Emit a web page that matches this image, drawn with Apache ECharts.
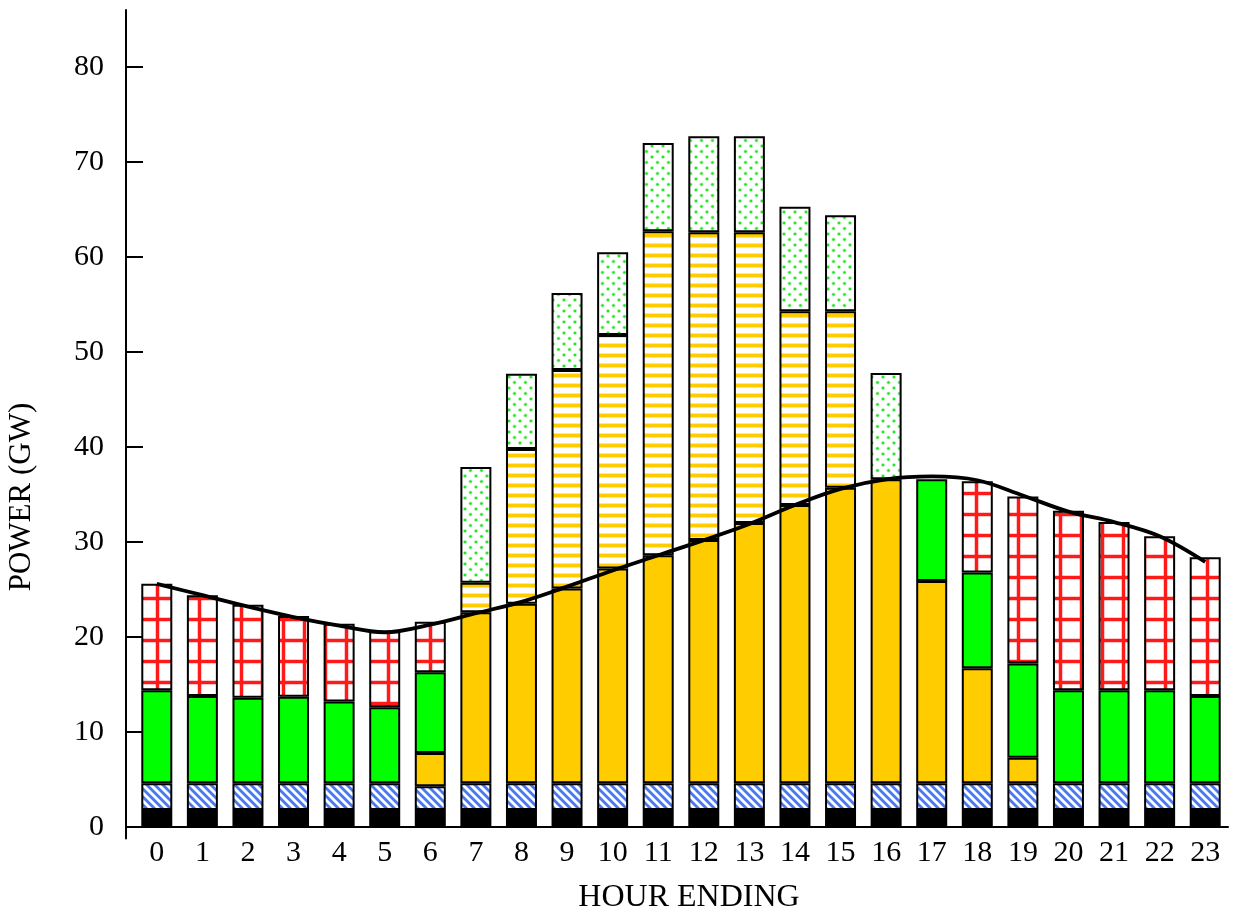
<!DOCTYPE html>
<html>
<head>
<meta charset="utf-8">
<title>Hourly generation stack</title>
<script src="https://cdn.jsdelivr.net/npm/echarts@6/dist/echarts.min.js"></script>
<style>
  html, body { margin: 0; padding: 0; background: #ffffff; }
  #chart { width: 1233px; height: 920px; }
</style>
</head>
<body>
<div id="chart"></div>
<script>
// Hours of the day (hour ending)
const hours = ['0','1','2','3','4','5','6','7','8','9','10','11','12','13','14','15','16','17','18','19','20','21','22','23'];

// Stacked segment heights in GW, bottom to top; null = segment absent
const baseBlack   = [1.8,1.8,1.8,1.8,1.8,1.8,1.8,1.8,1.8,1.8,1.8,1.8,1.8,1.8,1.8,1.8,1.8,1.8,1.8,1.8,1.8,1.8,1.8,1.8];
const hatchedBlue = [2.8,2.8,2.8,2.8,2.8,2.8,2.5,2.8,2.8,2.8,2.8,2.8,2.8,2.8,2.8,2.8,2.8,2.8,2.8,2.8,2.8,2.8,2.8,2.8];
const solidYellow = [null,null,null,null,null,null,3.5,18.0,18.9,20.5,22.6,24.0,25.6,27.4,29.3,31.1,32.0,21.3,12.1,2.7,null,null,null,null];
const solidGreen  = [9.8,9.2,9.0,9.1,8.6,8.0,8.5,null,null,null,null,null,null,null,null,null,null,10.7,10.1,9.9,9.8,9.8,9.8,9.2];
const redGrid     = [11.2,10.6,9.8,8.5,8.2,8.0,5.3,null,null,null,null,null,null,null,null,null,null,null,9.6,17.6,18.9,17.7,16.2,14.6];
const stripedYellow = [null,null,null,null,null,null,null,3.1,16.3,23.0,24.6,34.1,32.4,30.6,20.4,18.6,null,null,null,null,null,null,null,null];
const dottedGreen = [null,null,null,null,null,null,null,12.2,7.9,8.1,8.7,9.3,10.1,10.1,11.0,10.1,11.2,null,null,null,null,null,null,null];

// Hourly load curve (GW)
const load = [25.6,24.4,23.2,22.1,21.2,20.5,21.3,22.5,23.7,25.3,27.0,28.6,30.2,31.9,33.9,35.6,36.6,36.9,36.5,34.9,33.2,32.1,30.6,27.9];

// Y-axis tick labels
const yTicks = [0,10,20,30,40,50,60,70,80];

// ---- fill patterns drawn on small canvases ----
function tile(w, h, draw) {
  const c = document.createElement('canvas');
  c.width = w; c.height = h;
  const g = c.getContext('2d');
  g.fillStyle = '#ffffff';
  g.fillRect(0, 0, w, h);
  draw(g, w, h);
  return { image: c, repeat: 'repeat' };
}

// diagonal blue hatching, stripes running down to the right
const blueHatch = tile(8, 8, (g, w, h) => {
  const img = g.getImageData(0, 0, w, h);
  for (let y = 0; y < h; y++) {
    for (let x = 0; x < w; x++) {
      const k = ((x - y) % 8 + 8) % 8;
      const i = (y * w + x) * 4;
      if (k >= 1 && k <= 3) {
        img.data[i] = 75; img.data[i + 1] = 120; img.data[i + 2] = 240;
      } else if (k === 0 || k === 4) {
        img.data[i] = 165; img.data[i + 1] = 190; img.data[i + 2] = 250;
      }
      img.data[i + 3] = 255;
    }
  }
  g.putImageData(img, 0, 0);
});

// red square grid
const redCross = tile(21, 21, (g) => {
  g.fillStyle = 'rgba(255,0,0,0.22)';
  g.fillRect(8, 0, 5, 21);
  g.fillRect(0, 8, 21, 5);
  g.fillStyle = '#ff1a1a';
  g.fillRect(9, 0, 3, 21);
  g.fillRect(0, 9, 21, 3);
});

// horizontal yellow stripes
const yellowStripes = tile(4, 10, (g) => {
  g.fillStyle = '#ffe78a';
  g.fillRect(0, 3, 4, 5);
  g.fillStyle = '#ffcc00';
  g.fillRect(0, 4, 4, 3);
});

// staggered green dots
const greenDots = tile(11, 11, (g) => {
  const dot = (x, y) => {
    g.fillStyle = 'rgba(40,230,40,0.3)';
    g.beginPath(); g.arc(x, y, 2.1, 0, Math.PI * 2); g.fill();
    g.fillStyle = '#22e622';
    g.beginPath(); g.arc(x, y, 1.3, 0, Math.PI * 2); g.fill();
  };
  dot(3, 3);
  dot(8.5, 8.5);
});

const FONT = 'Liberation Serif';

function barSeries(name, data, fill) {
  return {
    name: name,
    type: 'bar',
    stack: 'gen',
    barWidth: 31,
    data: data,
    itemStyle: { color: fill, borderColor: '#000000', borderWidth: 2 },
    emphasis: { disabled: true },
    animation: false
  };
}

const chart = echarts.init(document.getElementById('chart'), null, { renderer: 'canvas' });

chart.setOption({
  animation: false,
  backgroundColor: '#ffffff',
  grid: { left: 134, right: 5, top: 10, height: 828.4, outerBoundsMode: 'none', containLabel: false },
  graphic: [
    {
      type: 'text',
      x: 689, y: 898,
      style: { text: 'HOUR ENDING', fontFamily: FONT, fontSize: 32, fill: '#000000', align: 'center', verticalAlign: 'middle' }
    },
    {
      type: 'text',
      x: 22, y: 497,
      rotation: Math.PI / 2,
      style: { text: 'POWER (GW)', fontFamily: FONT, fontSize: 31, fill: '#000000', align: 'center', verticalAlign: 'middle' }
    }
  ],
  xAxis: {
    type: 'category',
    data: hours,
    axisLine: { onZero: true, lineStyle: { color: '#000000', width: 2 } },
    axisTick: { show: false },
    axisLabel: { fontFamily: FONT, fontSize: 30, color: '#000000', margin: 0, interval: 0 },
    splitLine: { show: false }
  },
  yAxis: {
    type: 'value',
    min: -1.2,
    max: 86,
    offset: 8,
    axisLine: { show: true, lineStyle: { color: '#000000', width: 2 } },
    axisTick: { show: true, inside: true, length: 17, customValues: yTicks, lineStyle: { color: '#000000', width: 2 } },
    axisLabel: { fontFamily: FONT, fontSize: 30, color: '#000000', margin: 22, customValues: yTicks },
    splitLine: { show: false }
  },
  series: [
    barSeries('Base', baseBlack, '#000000'),
    barSeries('Hatched', hatchedBlue, blueHatch),
    barSeries('Solid yellow', solidYellow, '#ffcc00'),
    barSeries('Solid green', solidGreen, '#00ff00'),
    barSeries('Red grid', redGrid, redCross),
    barSeries('Striped yellow', stripedYellow, yellowStripes),
    barSeries('Dotted green', dottedGreen, greenDots),
    {
      name: 'Load',
      type: 'line',
      data: load,
      smooth: 0.35,
      symbol: 'none',
      z: 10,
      lineStyle: { color: '#000000', width: 3.8 },
      emphasis: { disabled: true },
      animation: false
    }
  ]
});
</script>
</body>
</html>
